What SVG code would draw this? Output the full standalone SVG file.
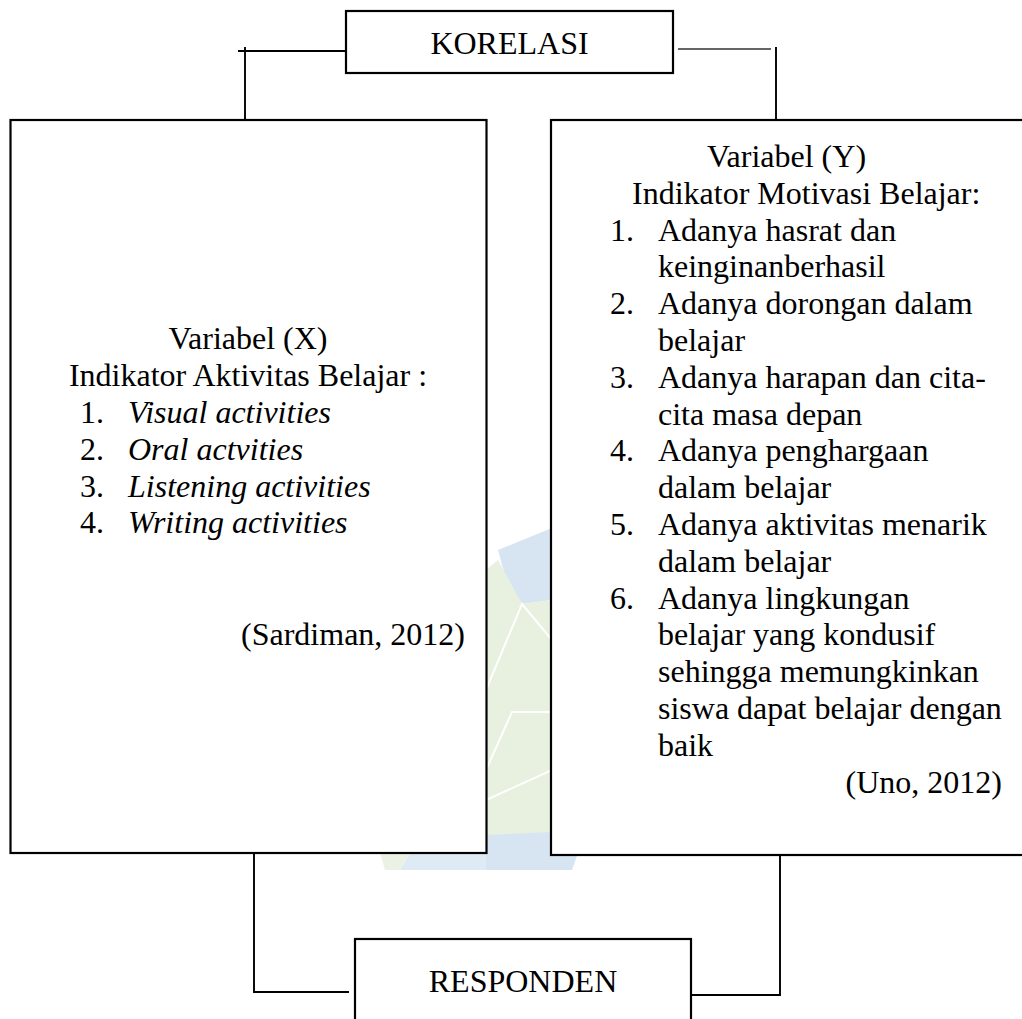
<svg xmlns="http://www.w3.org/2000/svg" width="1022" height="1019" viewBox="0 0 1022 1019">
<style>
.box{fill:#fff;stroke:#000;stroke-width:2.2}
.t{font-family:"Liberation Serif","Times New Roman",serif;font-size:32px;fill:#000}
.i{font-style:italic}
.c{text-anchor:middle}
.e{text-anchor:end}
.ln{fill:none;stroke:#000;stroke-width:1.9}
.lg{fill:none;stroke:#333;stroke-width:1.3}
</style>
<rect width="1022" height="1019" fill="#fff"/>
<g id="watermark" opacity="0.9">
<polygon points="498,550 552,528 552,600 522,604 506,580" fill="#d3e3f1"/>
<polygon points="486,570 498,560 522,604 552,600 552,835 486,835" fill="#e6efdc"/>
<polyline points="486,690 522,604 552,640" fill="none" stroke="#fff" stroke-width="2"/>
<polyline points="486,770 512,712 552,712" fill="none" stroke="#fff" stroke-width="2"/>
<polyline points="486,800 552,770" fill="none" stroke="#fff" stroke-width="2"/>
<polygon points="410,853 486,853 486,870 400,870" fill="#dbe8f3"/>
<polygon points="486,835 552,832 578,853 572,870 486,870" fill="#d3e3f1"/>
<polygon points="380,853 410,853 400,870 385,870" fill="#e9f1e0"/>
</g>
<g id="connectors">
<polyline class="ln" points="346,51 238,51"/>
<line class="ln" x1="245" y1="47" x2="245" y2="123"/>
<line class="lg" x1="678" y1="49" x2="771" y2="49"/>
<line class="ln" x1="776" y1="47" x2="776" y2="123"/>
<polyline class="ln" points="254,853 254,992 349,992"/>
<polyline class="ln" points="780,855 780,995 690,995"/>
</g>
<g id="korelasi">
<rect class="box" x="346" y="11" width="327" height="62"/>
<text class="t c" x="509.5" y="54">KORELASI</text>
</g>
<g id="variabel-x">
<rect class="box" x="10.5" y="120" width="476" height="733"/>
<text class="t c" x="248" y="349">Variabel (X)</text>
<text class="t c" x="248" y="386">Indikator Aktivitas Belajar :</text>
<text class="t" x="80" y="423">1.</text><text class="t i" x="128" y="423">Visual activities</text>
<text class="t" x="80" y="460">2.</text><text class="t i" x="128" y="460">Oral actvities</text>
<text class="t" x="80" y="497">3.</text><text class="t i" x="128" y="497">Listening activities</text>
<text class="t" x="80" y="533">4.</text><text class="t i" x="128" y="533">Writing activities</text>
<text class="t e" x="465" y="645">(Sardiman, 2012)</text>
</g>
<g id="variabel-y">
<rect class="box" x="551" y="120" width="500" height="735"/>
<text class="t" x="707" y="167">Variabel (Y)</text>
<text class="t" x="632" y="204">Indikator Motivasi Belajar:</text>
<text class="t" x="610" y="241">1.</text><text class="t" x="658" y="241">Adanya hasrat dan</text>
<text class="t" x="658" y="277">keinginanberhasil</text>
<text class="t" x="610" y="314">2.</text><text class="t" x="658" y="314">Adanya dorongan dalam</text>
<text class="t" x="658" y="351">belajar</text>
<text class="t" x="610" y="388">3.</text><text class="t" x="658" y="388">Adanya harapan dan cita-</text>
<text class="t" x="658" y="425">cita masa depan</text>
<text class="t" x="610" y="461">4.</text><text class="t" x="658" y="461">Adanya penghargaan</text>
<text class="t" x="658" y="498">dalam belajar</text>
<text class="t" x="610" y="535">5.</text><text class="t" x="658" y="535">Adanya aktivitas menarik</text>
<text class="t" x="658" y="572">dalam belajar</text>
<text class="t" x="610" y="609">6.</text><text class="t" x="658" y="609">Adanya lingkungan</text>
<text class="t" x="658" y="645">belajar yang kondusif</text>
<text class="t" x="658" y="682">sehingga memungkinkan</text>
<text class="t" x="658" y="719">siswa dapat belajar dengan</text>
<text class="t" x="658" y="756">baik</text>
<text class="t e" x="1002" y="793">(Uno, 2012)</text>
</g>
<g id="responden">
<rect class="box" x="355" y="939" width="336" height="100"/>
<text class="t c" x="523" y="992">RESPONDEN</text>
</g>
</svg>
